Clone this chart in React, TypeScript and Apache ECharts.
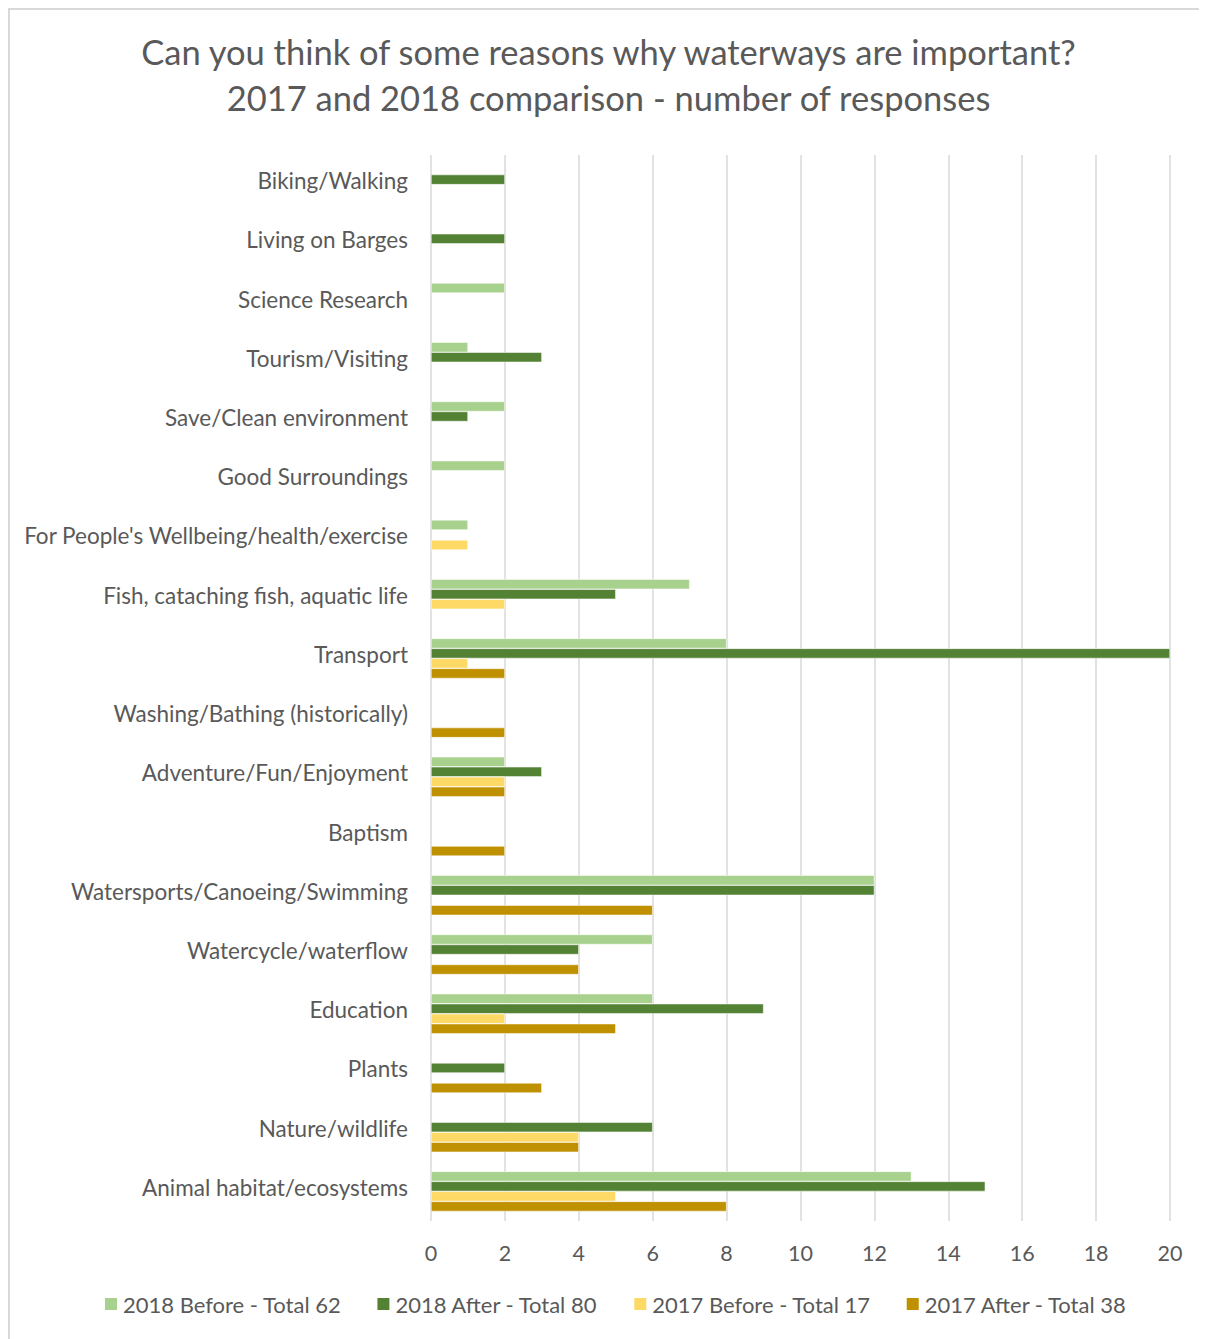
import React, { useEffect, useRef } from "react";
import * as echarts from "echarts";

const titleLines = [
  "Can you think of some reasons why waterways are important?",
  "2017 and 2018 comparison - number of responses",
];

const categories = [
  "Biking/Walking",
  "Living on Barges",
  "Science Research",
  "Tourism/Visiting",
  "Save/Clean environment",
  "Good Surroundings",
  "For People's Wellbeing/health/exercise",
  "Fish, cataching fish, aquatic life",
  "Transport",
  "Washing/Bathing (historically)",
  "Adventure/Fun/Enjoyment",
  "Baptism",
  "Watersports/Canoeing/Swimming",
  "Watercycle/waterflow",
  "Education",
  "Plants",
  "Nature/wildlife",
  "Animal habitat/ecosystems",
];

const seriesNames = [
  "2018 Before - Total 62",
  "2018 After - Total 80",
  "2017 Before - Total 17",
  "2017 After - Total 38",
];

const before2018 = [0, 0, 2, 1, 2, 2, 1, 7, 8, 0, 2, 0, 12, 6, 6, 0, 0, 13];
const after2018 = [2, 2, 0, 3, 1, 0, 0, 5, 20, 0, 3, 0, 12, 4, 9, 2, 6, 15];
const before2017 = [0, 0, 0, 0, 0, 0, 1, 2, 1, 0, 2, 0, 0, 0, 2, 0, 4, 5];
const after2017 = [0, 0, 0, 0, 0, 0, 0, 0, 2, 2, 2, 2, 6, 4, 5, 3, 4, 8];

const colors = ["#A9D18E", "#548235", "#FFD966", "#BF9000"];

const FONT = "Lato, 'Noto Sans', sans-serif";

export default function App() {
  const ref = useRef<HTMLDivElement>(null);

  useEffect(() => {
    if (!ref.current) return;
    const chart = echarts.init(ref.current, null, { renderer: "svg" });
    const allData = [before2018, after2018, before2017, after2017];
    chart.setOption({
      animation: false,
      color: colors,
      textStyle: { fontFamily: FONT },
      title: {
        text: titleLines.join("\n"),
        left: "center",
        top: 13,
        textStyle: {
          fontFamily: FONT,
          fontSize: 34.5,
          fontWeight: "normal",
          color: "#595959",
          lineHeight: 46,
        },
      },
      legend: {
        bottom: 19,
        left: 88,
        icon: "rect",
        itemWidth: 14,
        itemHeight: 14,
        itemGap: 34,
        textStyle: { fontSize: 22, color: "#595959", fontFamily: FONT },
        data: seriesNames,
      },
      grid: {
        left: 421,
        right: 37,
        top: 145,
        bottom: 118,
        containLabel: false,
      },
      xAxis: {
        type: "value",
        min: 0,
        max: 20,
        interval: 2,
        axisLine: { show: false },
        axisTick: { show: false },
        axisLabel: {
          fontSize: 21.5,
          color: "#595959",
          margin: 21,
          fontFamily: FONT,
        },
        splitLine: { show: true, lineStyle: { color: "#D9D9D9", width: 1.5 } },
      },
      yAxis: {
        type: "category",
        inverse: true,
        data: categories,
        axisLine: { show: false },
        axisTick: { show: false },
        axisLabel: {
          fontSize: 22.5,
          color: "#595959",
          margin: 23,
          verticalAlign: "bottom",
          lineHeight: 8,
          fontFamily: FONT,
        },
      },
      series: seriesNames.map((name, i) => ({
        name,
        type: "bar",
        barWidth: 10,
        barGap: "0%",
        barCategoryGap: "33%",
        itemStyle: { color: colors[i], borderColor: "#ffffff", borderWidth: 0.5 },
        data: allData[i].map((v) => (v === 0 ? "-" : v)),
      })),
    });
    return () => chart.dispose();
  }, []);

  return (
    <div
      style={{
        width: 1199,
        height: 1331,
        borderLeft: "2px solid #D9D9D9",
        borderTop: "2px solid #D9D9D9",
        boxSizing: "border-box",
        background: "#fff",
      }}
    >
      <div ref={ref} style={{ width: 1197, height: 1329 }} />
    </div>
  );
}
